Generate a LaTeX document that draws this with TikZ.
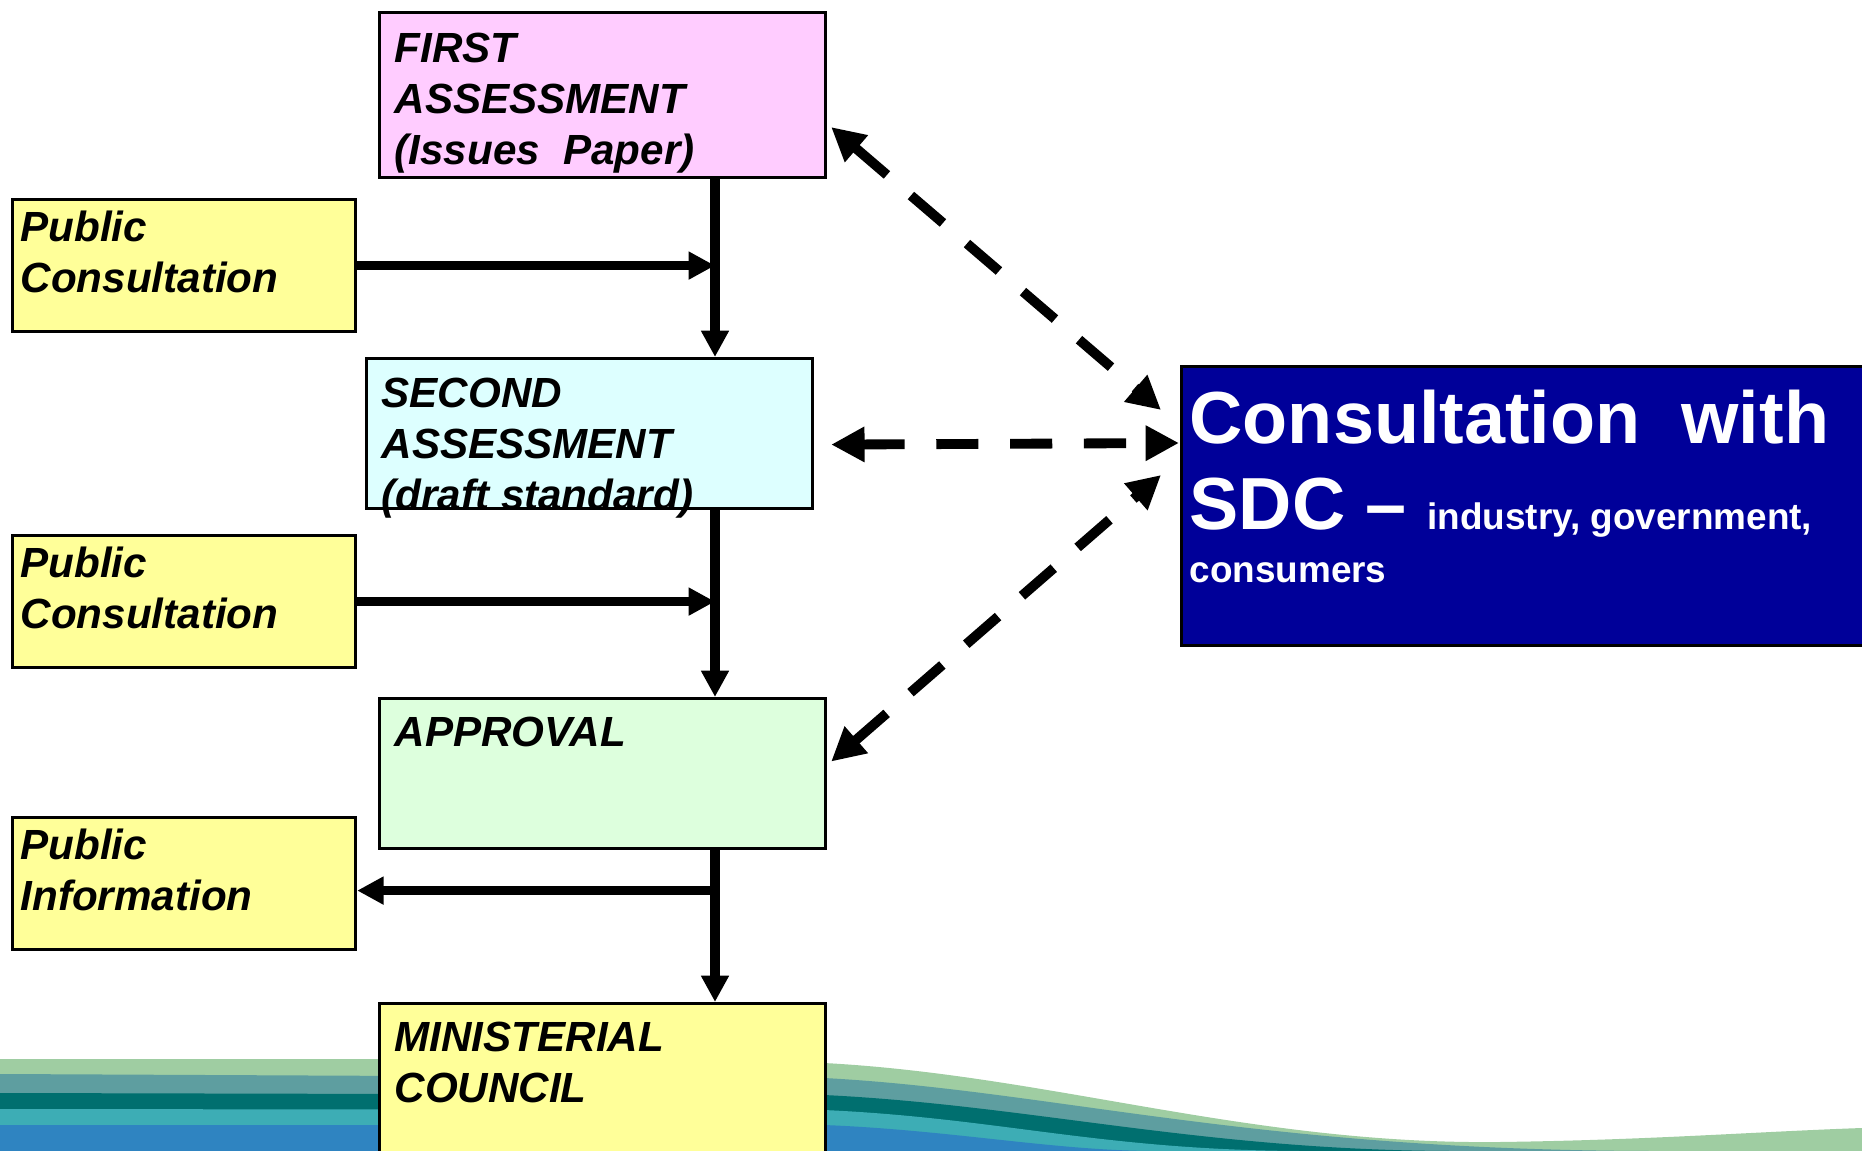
\documentclass[tikz,border=0pt]{standalone}
\usepackage{fontspec}
\setmainfont{Liberation Sans}
\usepackage{tikz}
\usetikzlibrary{arrows.meta,calc}
\definecolor{firstpink}{HTML}{FFCCFF}
\definecolor{secondcyan}{HTML}{DDFFFF}
\definecolor{approvalgreen}{HTML}{DDFFDD}
\definecolor{sideyellow}{HTML}{FFFF99}
\definecolor{sdcblue}{HTML}{000099}
\definecolor{wavelight}{HTML}{9FCDA2}
\definecolor{wavegrey}{HTML}{5E9EA0}
\definecolor{wavedark}{HTML}{006F6F}
\definecolor{waveteal}{HTML}{3DADB5}
\definecolor{waveblue}{HTML}{2F84C1}

\begin{document}
\begin{tikzpicture}[x=0.1mm,y=-0.1mm,
    stage/.style={draw, line width=0.9pt, anchor=north west, align=flush left,
      inner xsep=1.5mm, inner ysep=0pt, text width=41.6mm,
      font=\fontsize{12}{14.5}\selectfont\bfseries\itshape},
    side/.style={stage, fill=sideyellow, inner xsep=0.8mm, text width=32.7mm,
      text height=4.2mm, text depth=9mm},
    flow/.style={line width=2.7pt, -{Triangle[length=7.5pt,width=7.5pt]}},
    link/.style={line width=2.8pt, dash pattern=on 12pt off 9pt,
      {Triangle[length=9.5pt,width=9.5pt]}-{Triangle[length=9.5pt,width=9.5pt]}}]
  \useasboundingbox (0,0) rectangle (1862,1151);

  % wave along the bottom edge
  \fill[wavelight] (0,1059) -- (378,1059) -- (824,1063)
    .. controls (1050,1075) and (1250,1145) .. (1500,1142)
    .. controls (1650,1140) and (1750,1132) .. (1862,1128)
    -- (1862,1151) -- (0,1151) -- cycle;
  \fill[wavegrey] (0,1074) -- (824,1078)
    .. controls (1050,1090) and (1250,1150) .. (1650,1151) -- (0,1151) -- cycle;
  \fill[wavedark] (0,1093) -- (824,1095)
    .. controls (1030,1105) and (1200,1150) .. (1450,1151) -- (0,1151) -- cycle;
  \fill[waveteal] (0,1109) -- (824,1110)
    .. controls (1000,1118) and (1100,1150) .. (1300,1151) -- (0,1151) -- cycle;
  \fill[waveblue] (0,1125) -- (824,1125)
    .. controls (950,1130) and (1050,1150) .. (1150,1151) -- (0,1151) -- cycle;

  \node[stage, fill=firstpink, text height=5mm, text depth=11.5mm] (first) at (378,11)
    {FIRST\\ASSESSMENT\\(Issues\ \ Paper)};
  \node[stage, fill=secondcyan, text height=4.9mm, text depth=10.1mm] (second) at (365,357)
    {SECOND\\ASSESSMENT\\(draft standard)};
  \node[stage, fill=approvalgreen, text height=4.8mm, text depth=10.2mm] (approval) at (378,697)
    {APPROVAL};
  \node[stage, fill=sideyellow, text height=4.8mm, text depth=11.2mm] (council) at (378,1002)
    {MINISTERIAL\\COUNCIL};

  \node[side] (pc1) at (11,198) {Public\\Consultation};
  \node[side] (pc2) at (11,534) {Public\\Consultation};
  \node[side] (pi) at (11,816) {Public\\Information};

  \node[draw, line width=0.9pt, fill=sdcblue, text=white, anchor=north west, align=flush left,
    inner xsep=0.8mm, inner ysep=0pt, text width=68.4mm, text height=7.7mm, text depth=20.2mm,
    font=\fontsize{21}{24.5}\selectfont\bfseries] (sdc) at (1180,365)
    {Consultation\ \ with\\SDC -- {\fontsize{10.5}{12}\selectfont industry, government,}\\[-9.5pt]
     {\fontsize{10.5}{12}\selectfont consumers}};

  % main line down the stages
  \coordinate (trunk) at (715,0);
  \draw[flow] (first.south -| trunk) -- (second.north -| trunk);
  \draw[flow] (second.south -| trunk) -- (approval.north -| trunk);
  \draw[flow] (approval.south -| trunk) -- (council.north -| trunk);
  \draw[flow] (pc1.east) -- (pc1.east -| trunk);
  \draw[flow] (pc2.east) -- (pc2.east -| trunk);
  \draw[flow] ($(pi.east -| trunk)+(0,7)$) -- ($(pi.east)+(0,7)$);

  % consultation links
  \draw[link] ($(first.east)+(4,32)$) -- ($(sdc.north west)+(-19,45)$);
  \draw[link] ($(second.east)+(17,11)$) -- ($(sdc.north west)+(-1,78)$);
  \draw[link] ($(approval.east)+(4,-12)$) -- ($(sdc.north west)+(-19,110)$);
\end{tikzpicture}
\end{document}
